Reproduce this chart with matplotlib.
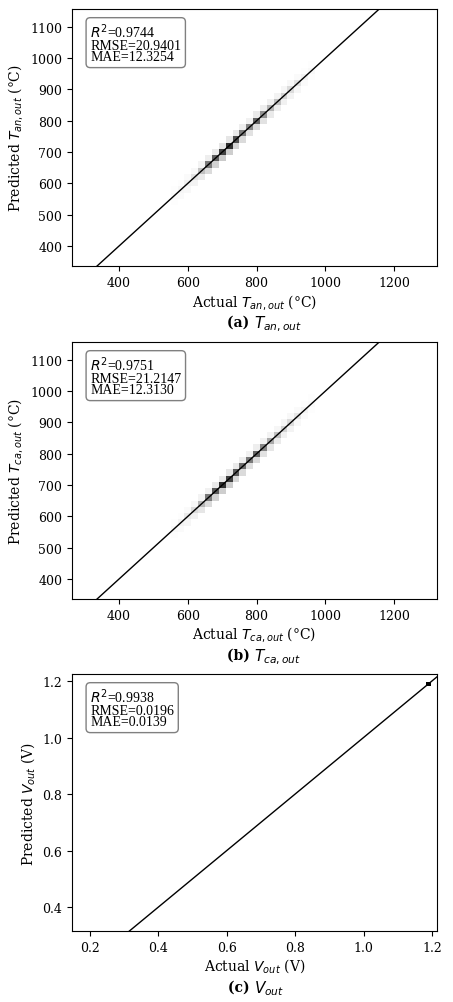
import matplotlib
matplotlib.use("Agg")
import matplotlib.pyplot as plt
import numpy as np

plt.rcParams['font.family'] = ['DejaVu Serif']
plt.rcParams['mathtext.fontset'] = 'dejavusans'

# bin centres along diagonal (°C) and counts: on-diagonal, below (-20), above (+20)
t_bins = [560, 580, 600, 620, 640, 660, 680, 700, 720, 740, 760, 780, 800, 820, 840, 860, 880, 900, 920, 940, 960]
an_diag = [2, 4, 6, 10, 18, 30, 35, 40, 42, 38, 30, 28, 34, 26, 20, 18, 14, 12, 10, 6, 3]
an_low = [1, 2, 3, 5, 8, 12, 14, 16, 15, 14, 12, 10, 12, 10, 8, 7, 6, 5, 4, 2, 1]
an_high = [1, 1, 2, 3, 5, 7, 8, 9, 9, 8, 7, 6, 8, 7, 6, 5, 4, 3, 2, 1, 1]
ca_diag = [3, 5, 8, 12, 20, 30, 36, 42, 40, 36, 32, 30, 34, 28, 22, 18, 14, 12, 9, 5, 2]
ca_low = [1, 2, 4, 6, 9, 12, 14, 15, 15, 13, 12, 11, 12, 10, 9, 8, 6, 5, 3, 2, 1]
ca_high = [1, 1, 2, 3, 5, 6, 8, 8, 9, 8, 7, 6, 7, 6, 5, 4, 4, 3, 2, 1, 1]
v_x = [1.19]
v_y = [1.185]
v_counts = [50]

metrics = [("0.9744", "20.9401", "12.3254"), ("0.9751", "21.2147", "12.3130"), ("0.9938", "0.0196", "0.0139")]

fig = plt.figure(figsize=(4.53, 10.03), dpi=100)
W, H = 453, 1003
boxes = [(72, 10, 437, 267), (72, 343, 437, 600), (72, 675, 437, 932)]
axs = [fig.add_axes([l/W, 1-b/H, (r-l)/W, (b-t)/H]) for l, t, r, b in boxes]
FS = 10

def caption(ax, tag, sym, y):
    ax.text(0.5, y, "(%s) " % tag, transform=ax.transAxes, ha='right', va='top', fontsize=FS, fontweight='bold')
    ax.text(0.5, y + 0.005, sym, transform=ax.transAxes, ha='left', va='top', fontsize=FS + 1)

def tempplot(ax, diag, low, high, sub, tag):
    xs, ys, ws = [], [], []
    for c, d, lo, hi in zip(t_bins, diag, low, high):
        xs += [c, c, c]; ys += [c, c-20, c+20]; ws += [d, lo, hi]
    edges = np.arange(250, 1350, 20)
    ax.hist2d(xs, ys, bins=[edges, edges], weights=ws, cmap='Greys', cmin=0.5, vmin=0, vmax=50)
    ax.set_xlim(263, 1325); ax.set_ylim(336, 1157)
    ax.plot([0, 2000], [0, 2000], color='black', lw=1)
    ax.set_xticks([400, 600, 800, 1000, 1200])
    ax.set_yticks(range(400, 1101, 100))
    ax.set_xlabel(r"Actual $T_{%s}$ (°C)" % sub, fontsize=FS, labelpad=2)
    ax.set_ylabel(r"Predicted $T_{%s}$ (°C)" % sub, fontsize=FS)
    caption(ax, tag, r"$T_{%s}$" % sub, -0.19)

tempplot(axs[0], an_diag, an_low, an_high, "an,out", "a")
tempplot(axs[1], ca_diag, ca_low, ca_high, "ca,out", "b")

ax = axs[2]
vedges = np.arange(0.1025, 1.25, 0.015)
ax.hist2d(v_x, v_y, bins=[vedges, vedges], weights=v_counts, cmap='Greys', cmin=0.5, vmin=0, vmax=50)
ax.set_xlim(0.147, 1.215); ax.set_ylim(0.315, 1.225)
ax.plot([0, 2], [0, 2], color='black', lw=1)
ax.set_xticks([0.2, 0.4, 0.6, 0.8, 1.0, 1.2])
ax.set_yticks([0.4, 0.6, 0.8, 1.0, 1.2])
ax.set_xlabel(r"Actual $V_{out}$ (V)", fontsize=FS, labelpad=2)
ax.set_ylabel(r"Predicted $V_{out}$ (V)", fontsize=FS)
caption(ax, "c", r"$V_{out}$", -0.19)

for ax, (r2, rmse, mae) in zip(axs, metrics):
    ax.text(0.05, 0.95, "$R^2$=%s\nRMSE=%s\nMAE=%s" % (r2, rmse, mae), transform=ax.transAxes,
            va='top', ha='left', fontsize=10, linespacing=0.85, family='Liberation Serif',
            bbox=dict(boxstyle='round,pad=0.3', fc='white', ec='gray'))
    ax.tick_params(labelsize=9)

fig.savefig("out.png", dpi=100)
